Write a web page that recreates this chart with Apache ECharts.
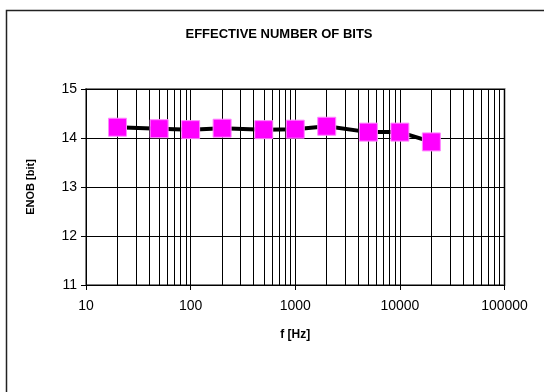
<!DOCTYPE html>
<html><head><meta charset="utf-8">
<script src="https://cdn.jsdelivr.net/npm/echarts@6/dist/echarts.min.js"></script>
<style>html,body{margin:0;padding:0;background:#fff}#c{width:544px;height:392px}</style>
</head><body><div id="c"></div>
<script>
var title = 'EFFECTIVE NUMBER OF BITS';
var xName = 'f [Hz]';
var yName = 'ENOB [bit]';
var freqs = [20, 50, 100, 200, 500, 1000, 2000, 5000, 10000, 20000];
var enob = [14.22, 14.19, 14.17, 14.20, 14.17, 14.18, 14.24, 14.12, 14.12, 13.92];
var yTicks = [11, 12, 13, 14, 15];
var xTicks = [10, 100, 1000, 10000, 100000];

var minorLines = [];
for (var d = 10; d < 100000; d *= 10) {
  for (var m = 2; m <= 9; m++) minorLines.push({xAxis: d * m});
}
var font = 'Liberation Sans, Arial, sans-serif';
var chart = echarts.init(document.getElementById('c'));
chart.setOption({
  animation: false,
  backgroundColor: '#fff',
  title: {text: title, left: 274, textAlign: 'center', top: 23,
    textStyle: {fontFamily: font, fontSize: 13, fontWeight: 'bold', color: '#000'}},
  graphic: [{type: 'rect', shape: {x: 6.5, y: 10.5, width: 600, height: 500},
    style: {fill: 'none', stroke: '#222', lineWidth: 1.5}, silent: true}],
  grid: {left: 86, right: 39.5, top: 89, bottom: 107, show: true,
    borderColor: '#808080', borderWidth: 2, backgroundColor: 'transparent'},
  xAxis: {type: 'log', logBase: 10, min: 10, max: 100000,
    name: xName, nameLocation: 'middle', nameGap: 44,
    nameTextStyle: {fontFamily: font, fontSize: 12, fontWeight: 'bold', color: '#000'},
    axisLine: {lineStyle: {color: '#000', width: 1}},
    axisTick: {show: true, inside: false, length: 5, lineStyle: {color: '#000'}},
    axisLabel: {fontFamily: font, fontSize: 14, color: '#000', margin: 14,
      formatter: function (v) { return String(Math.round(v)); }},
    splitLine: {show: true, lineStyle: {color: '#000', width: 1}}},
  yAxis: {type: 'value', min: 11, max: 15, interval: 1,
    name: yName, nameLocation: 'middle', nameGap: 50, nameRotate: 90,
    nameTextStyle: {fontFamily: font, fontSize: 11, fontWeight: 'bold', color: '#000'},
    axisLine: {show: true, lineStyle: {color: '#000', width: 1}},
    axisTick: {show: true, inside: false, length: 5, lineStyle: {color: '#000'}},
    axisLabel: {fontFamily: font, fontSize: 14, color: '#000', margin: 9},
    splitLine: {show: true, lineStyle: {color: '#000', width: 1}}},
  series: [{
    type: 'line',
    data: freqs.map(function (f, i) { return [f, enob[i]]; }),
    symbol: 'rect', symbolSize: 18,
    itemStyle: {color: '#ff00ff', borderColor: '#ff88ff', borderWidth: 1},
    lineStyle: {color: '#000', width: 4},
    z: 5,
    markLine: {silent: true, symbol: 'none', label: {show: false},
      lineStyle: {color: '#000', width: 1, type: 'solid'},
      data: minorLines, z: 1}
  }]
});
</script></body></html>
